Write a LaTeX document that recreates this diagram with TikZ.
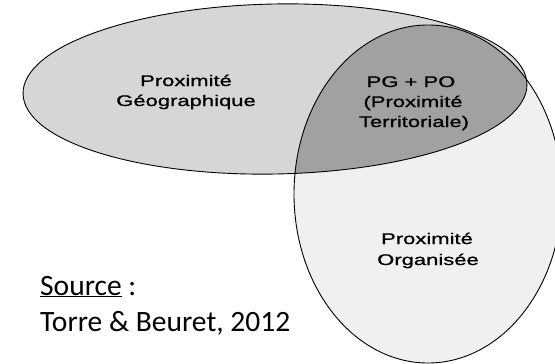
\documentclass[tikz,border=0pt]{standalone}
\usepackage{fontspec}
\newfontfamily\widefont[FakeStretch=1.43,FakeBold=1]{Liberation Sans}
\newfontfamily\srcfont{Carlito}
\definecolor{geo}{gray}{0.84}
\definecolor{org}{gray}{0.94}
\definecolor{both}{gray}{0.63}
\tikzset{
  lbl/.style={anchor=base, inner sep=0pt, font=\widefont\fontsize{15.4}{19}\selectfont},
  src/.style={anchor=base west, inner sep=0pt, font=\srcfont\fontsize{29.5}{34}\selectfont},
  outline/.style={draw=black, line width=0.9pt}
}
\begin{document}
\begin{tikzpicture}[x=1pt,y=-1pt]
\useasboundingbox (0,0) rectangle (555,364);
\fill[white] (0,0) rectangle (555,364);
\def\HE{(275,89) ellipse [x radius=252, y radius=85, rotate=1.1]}
\def\VE{(428,194) ellipse [x radius=134, y radius=169]}
\fill[geo] \HE;
\fill[org] \VE;
\begin{scope}
  \clip \HE;
  \fill[both] \VE;
\end{scope}
\draw[outline] \VE;
\draw[outline] \HE;
% labels
\node[lbl] (g1) at (186,86) {Proximité};
\node[lbl] (g2) at (186,106) {Géographique};
\node[lbl] (t1) at (411,87) {PG + PO};
\node[lbl] (t2) at (413,107) {(Proximité};
\node[lbl] (t3) at (414,127) {Territoriale)};
\node[lbl] (o1) at (427,244) {Proximité};
\node[lbl] (o2) at (428,265) {Organisée};
\node[src] (s1) at (40,295) {\underline{Source}~:};
\node[src] (s2) at (40,331) {Torre \& Beuret, 2012};
\end{tikzpicture}
\end{document}
